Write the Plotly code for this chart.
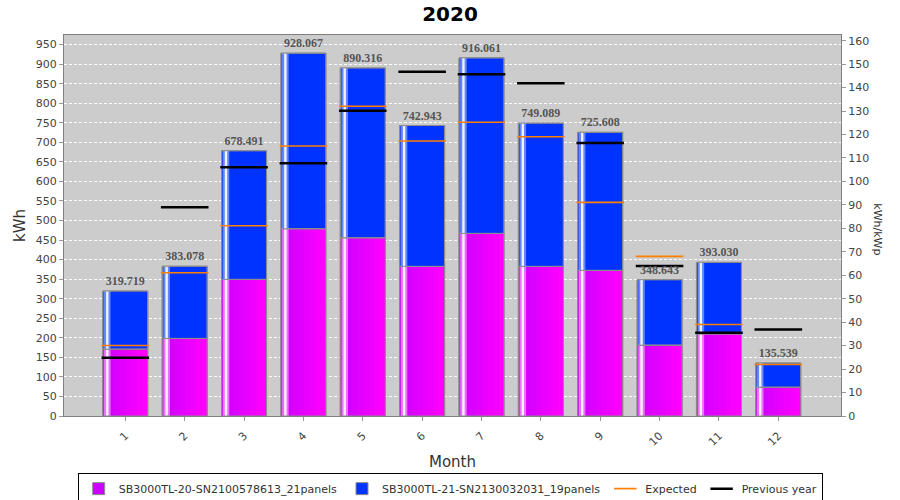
import plotly.graph_objects as go

# ---- data ----
months = [1, 2, 3, 4, 5, 6, 7, 8, 9, 10, 11, 12]
month_labels = [str(m) for m in months]
inverter1 = [171.0, 198.4, 349.4, 479.0, 455.9, 382.6, 467.0, 382.6, 372.4, 181.2, 210.0, 73.7]
inverter2 = [148.719, 184.678, 329.091, 449.067, 434.416, 360.343, 449.061, 366.489, 353.208, 167.443, 183.030, 61.839]
total_labels = ["319.719", "383.078", "678.491", "928.067", "890.316", "742.943",
                "916.061", "749.089", "725.608", "348.643", "393.030", "135.539"]
expected = [180.4, 366.3, 486.6, 690.6, 792.1, 703.4, 751.2, 714.4, 546.4, 408.2, 234.2, 131.8]
previous_year = [148.7, 533.7, 636.0, 646.3, 781.0, 880.7, 874.0, 851.0, 698.2, 383.4, 212.7, 221.4]
kwp = 6.0

name1 = "SB3000TL-20-SN2100578613_21panels"
name2 = "SB3000TL-21-SN2130032031_19panels"

totals = [a + b for a, b in zip(inverter1, inverter2)]
ymax = max(totals) * 1.05

W = 0.758          # bar width (category units)
LEFT = -W / 2
TICK_FONT = dict(family="DejaVu Sans", size=11, color="#444444")

fig = go.Figure()


def interp(c1, c2, t):
    return "rgb(%d,%d,%d)" % tuple(round(a + (b - a) * t) for a, b in zip(c1, c2))


def add_series(vals, base, name, col_left, col_right, stripe_col, slices):
    # main (legend) bar
    fig.add_trace(go.Bar(x=months, y=vals, base=base, name=name, width=W,
                         marker=dict(color=interp(col_left, col_left, 0),
                                     line=dict(color="#8c8c8c", width=1)),
                         hoverinfo="skip"))
    # horizontal gradient slices
    if slices > 1:
        sw = W / slices
        for k in range(slices):
            fig.add_trace(go.Bar(x=months, y=vals, base=base, width=sw * 1.02,
                                 offset=LEFT + k * sw,
                                 marker=dict(color=interp(col_left, col_right, k / (slices - 1)),
                                             line=dict(width=0)),
                                 showlegend=False, hoverinfo="skip"))
    # glossy highlight stripe
    fig.add_trace(go.Bar(x=months, y=vals, base=base, width=0.11, offset=LEFT + 0.02,
                         marker=dict(color=stripe_col, opacity=0.55, line=dict(width=0)),
                         showlegend=False, hoverinfo="skip"))
    fig.add_trace(go.Bar(x=months, y=vals, base=base, width=0.04, offset=LEFT + 0.055,
                         marker=dict(color="white", opacity=0.9, line=dict(width=0)),
                         showlegend=False, hoverinfo="skip"))
    # outline
    fig.add_trace(go.Bar(x=months, y=vals, base=base, width=W,
                         marker=dict(color="rgba(0,0,0,0)", line=dict(color="#8c8c8c", width=1)),
                         showlegend=False, hoverinfo="skip"))


add_series(inverter1, [0] * 12, name1, (204, 0, 255), (255, 0, 255), "#ffd0ff", 8)
add_series(inverter2, inverter1, name2, (0, 51, 255), (0, 60, 255), "#b8c8ff", 1)

fig.add_trace(go.Scatter(x=months, y=expected, mode="markers", name="Expected",
                         marker=dict(symbol="line-ew", size=34, color="#ff8000",
                                     line=dict(color="#ff8000", width=1.6)),
                         hoverinfo="skip"))
fig.add_trace(go.Scatter(x=months, y=previous_year, mode="markers", name="Previous year",
                         marker=dict(symbol="line-ew", size=34, color="black",
                                     line=dict(color="black", width=2.5)),
                         hoverinfo="skip"))
fig.add_trace(go.Scatter(x=months, y=totals, mode="markers+text", text=total_labels,
                         textposition="top center",
                         marker=dict(size=3, opacity=0),
                         textfont=dict(family="Liberation Serif", size=12, color="#555555",
                                       weight="bold"),
                         showlegend=False, hoverinfo="skip"))
# kWh/kWp on the secondary axis (invisible, keeps the axis scaled)
fig.add_trace(go.Scatter(x=months, y=[t / kwp for t in totals], yaxis="y2", mode="markers",
                         marker=dict(opacity=0), showlegend=False, hoverinfo="skip"))

fig.update_layout(
    width=900, height=500,
    barmode="overlay",
    paper_bgcolor="white", plot_bgcolor="#cccccc",
    margin=dict(l=64, r=59, t=35, b=84, autoexpand=False),
    title=dict(text="<b>2020</b>", x=0.5, xanchor="center", y=0.972, yanchor="middle",
               font=dict(family="DejaVu Sans", size=20, color="black")),
    font=dict(family="DejaVu Sans", color="#444444"),
    xaxis=dict(range=[-0.033, 13.056], tickmode="array", tickvals=months, ticktext=month_labels,
               tickangle=-45, tickfont=TICK_FONT, ticks="outside", ticklen=4, tickcolor="#999999",
               ticklabelstandoff=4,
               showgrid=False, zeroline=False, showline=True, mirror=True, linecolor="#808080",
               automargin=False,
               title=dict(text="Month", font=dict(family="DejaVu Sans", size=15, color="#333333"),
                          standoff=8)),
    yaxis=dict(range=[0, ymax], dtick=50, tickfont=TICK_FONT, ticks="outside", ticklen=4,
               tickcolor="#999999", showgrid=True, gridcolor="white", griddash="3px,2px",
               gridwidth=1, zeroline=False, showline=True, mirror=True, linecolor="#808080",
               automargin=False,
               title=dict(text="kWh", font=dict(family="DejaVu Sans", size=15, color="#333333"),
                          standoff=6)),
    yaxis2=dict(range=[0, ymax / kwp], dtick=10, overlaying="y", side="right",
                tickfont=TICK_FONT, ticks="outside", ticklen=4, tickcolor="#999999",
                showgrid=False, zeroline=False, showline=False, automargin=False),
    legend=dict(orientation="h", x=0.497, xanchor="center", y=-0.15, yanchor="top",
                bgcolor="white", bordercolor="black", borderwidth=1,
                font=dict(family="DejaVu Sans", size=11, color="#333333"),
                itemwidth=30, tracegroupgap=0),
    annotations=[dict(text="kWh/kWp", xref="paper", yref="paper", x=1.0476, y=0.49,
                      xanchor="center", yanchor="middle",
                      showarrow=False, textangle=90,
                      font=dict(family="DejaVu Sans", size=11, color="#333333"))],
)

fig.write_html("out.html", config={"displayModeBar": False},
               post_script="document.body.style.margin='0';document.body.style.overflow='hidden';")
